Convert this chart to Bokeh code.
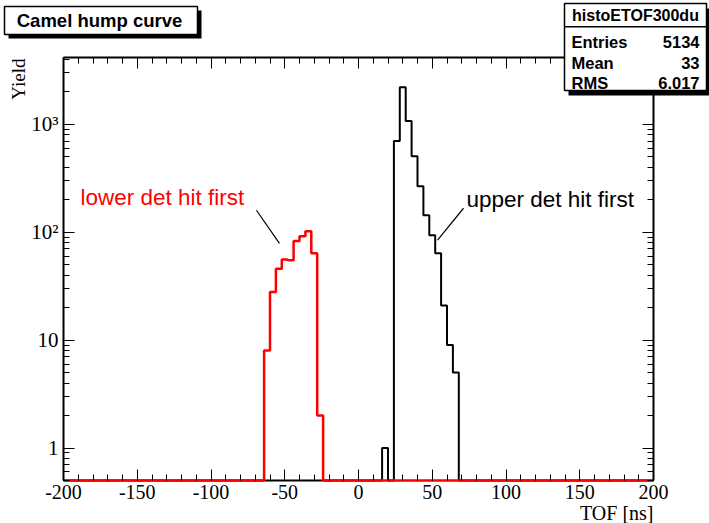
import math
import numpy as np
from bokeh.plotting import figure
from bokeh.models import (FixedTicker, LinearAxis, LogAxis, Range1d, Label, BoxAnnotation)
from bokeh.embed import file_html
from bokeh.resources import INLINE

# ---------------- data ----------------
x_low, x_high, bin_width = -200, 200, 4

# histoETOF300du : upper detector hit first (black), bins start at 16 ns
upper_start = 16
upper_counts = [1, 0, 701, 2213, 1073, 506, 267, 144, 94, 64, 21, 9, 5]

# lower detector hit first (red), bins start at -64 ns
lower_start = -64
lower_counts = [8, 28, 46, 56, 55, 83, 92, 102, 64, 2]

x_major = [-200, -150, -100, -50, 0, 50, 100, 150, 200]
x_labels = {t: str(t) for t in x_major}
y_major = [1, 10, 100, 1000]
y_labels = {1: "1", 10: "10", 100: "10\u00b2", 1000: "10\u00b3"}

stats_name = "histoETOF300du"
stats_rows = [("Entries", "5134"), ("Mean", "33"), ("RMS", "6.017")]
title_text = "Camel hump curve"

y_low, y_high = 0.5, 4170

# ---------------- build histograms ----------------
edges = np.arange(x_low, x_high + bin_width, bin_width, dtype=float)
nb = len(edges) - 1

def full_hist(start, counts):
    h = np.zeros(nb)
    i0 = int((start - x_low) // bin_width)
    h[i0:i0 + len(counts)] = counts
    h = np.where(h > 0, h, y_low)
    return np.append(h, h[-1])

upper_vals = full_hist(upper_start, upper_counts)
lower_vals = full_hist(lower_start, lower_counts)

# ---------------- geometry: plot frame inside the 709x523 canvas ----------------
W, H = 709, 523
FL, FR, FT, FB = 63, 653, 57, 480      # axes box in canvas pixels

# the Bokeh frame covers the whole canvas; ranges extended so the axes box lands at FL..FR, FT..FB
ppx = (FR - FL) / (x_high - x_low)
xr0 = x_low - FL / ppx
xr1 = x_high + (W - FR) / ppx
lg0, lg1 = math.log10(y_low), math.log10(y_high)
ppd = (FB - FT) / (lg1 - lg0)
yr1 = 10 ** (lg1 + FT / ppd)
yr0 = 10 ** (lg0 - (H - FB) / ppd)

p = figure(width=W, height=H, x_range=Range1d(xr0, xr1), y_range=Range1d(yr0, yr1),
           y_axis_type="log", output_backend="svg", toolbar_location=None, title=None,
           min_border=0, background_fill_color="white", border_fill_color="white")
p.outline_line_color = None
p.xgrid.visible = False
p.ygrid.visible = False

x_minor = list(range(x_low, x_high + 1, 10))
y_minor = [round(k * 10.0 ** d, 6) for d in range(-1, 4) for k in range(2, 10)
           if y_low <= k * 10.0 ** d <= y_high]

serif = "Liberation Serif"
sans = "Liberation Sans"

def style_axis(ax, ticks, labels=True):
    ax.major_tick_in = 11
    ax.major_tick_out = 0
    ax.minor_tick_in = 6
    ax.minor_tick_out = 0
    ax.major_tick_line_color = "black"
    ax.minor_tick_line_color = "black"
    ax.major_tick_line_width = 1
    ax.minor_tick_line_width = 1
    ax.axis_line_color = "black"
    ax.axis_line_width = 2
    ax.major_label_text_font = serif
    ax.major_label_text_font_size = "20px"
    ax.major_label_text_color = "black"
    if not labels:
        ax.major_label_overrides = {t: "" for t in ticks}
        ax.major_label_standoff = 0

xax = p.xaxis[0]
xax.ticker = FixedTicker(ticks=x_major, minor_ticks=x_minor)
style_axis(xax, x_major)
xax.major_label_overrides = x_labels
xax.axis_line_color = None
xax.major_label_standoff = 4
xax.fixed_location = y_low
xax.bounds = (x_low, x_high)

yax = p.yaxis[0]
yax.ticker = FixedTicker(ticks=y_major, minor_ticks=y_minor)
style_axis(yax, y_major)
yax.major_label_text_font_size = "21px"
yax.major_label_overrides = y_labels
yax.major_label_standoff = 5
yax.fixed_location = x_low
yax.bounds = (y_low, y_high)

top_ax = LinearAxis(ticker=FixedTicker(ticks=x_major, minor_ticks=x_minor))
style_axis(top_ax, x_major, labels=False)
top_ax.fixed_location = y_high
top_ax.bounds = (x_low, x_high)
p.add_layout(top_ax, "above")

right_ax = LogAxis(ticker=FixedTicker(ticks=y_major, minor_ticks=y_minor))
style_axis(right_ax, y_major, labels=False)
right_ax.fixed_location = x_high
right_ax.bounds = (y_low, y_high)
p.add_layout(right_ax, "right")

# histograms
p.step(x=edges, y=upper_vals, mode="after", line_color="black", line_width=2)
p.step(x=edges, y=lower_vals, mode="after", line_color="red", line_width=2.5)

# annotation texts and pointers (data coordinates)
p.add_layout(Label(x=-188.5, y=211, text="lower det hit first", text_color="red",
                   text_font=sans, text_font_size="22.5px", text_align="left",
                   text_baseline="middle"))
p.add_layout(Label(x=73.2, y=202, text="upper det hit first", text_color="black",
                   text_font=sans, text_font_size="22.5px", text_align="left",
                   text_baseline="middle"))
p.segment(x0=[-69.2, 71.2], y0=[160, 167], x1=[-53.6, 53.6], y1=[79, 84.4],
          line_color="black", line_width=1.2)

# ---------------- boxes and titles (screen units, canvas pixels from top-left) ----------------
def SX(X):
    return X

def SY(Y):
    return H - Y

def box(l, t, r, b, fill, line=None, lw=1.5):
    p.add_layout(BoxAnnotation(left=SX(l), right=SX(r), top=SY(t), bottom=SY(b),
                               left_units="screen", right_units="screen",
                               top_units="screen", bottom_units="screen",
                               fill_color=fill, fill_alpha=1.0,
                               line_color=line, line_width=lw, line_alpha=1.0))

def text(X, Y, s, size, align="left", bold=True, font=sans, angle=0.0):
    p.add_layout(Label(x=SX(X), y=SY(Y), x_units="screen", y_units="screen", text=s,
                       text_font=font, text_font_size=size,
                       text_font_style="bold" if bold else "normal",
                       text_align=align, text_baseline="middle", text_color="black",
                       angle=angle))

# title box
box(8, 10, 201, 38, "black")
box(4, 6, 197, 34, "white", "black")
text(99, 20, title_text, "18.5px", align="center")

# stats box
box(568, 8, 712, 95, "black")
box(564, 3, 706, 90, "white", "black")
box(564, 25.5, 706, 27, "black")
text(635, 15, stats_name, "16px", align="center")
for (name, val), yy in zip(stats_rows, [41, 62, 82]):
    text(571, yy, name, "16.5px", align="left")
    text(699, yy, val, "16.5px", align="right")

# axis titles
text(653, 512, "TOF [ns]", "20px", align="right", bold=False, font=serif)
text(18, 58, "Yield", "19px", align="right", bold=False, font=serif, angle=math.pi / 2)

open("out.html", "w").write(file_html(p, INLINE))
